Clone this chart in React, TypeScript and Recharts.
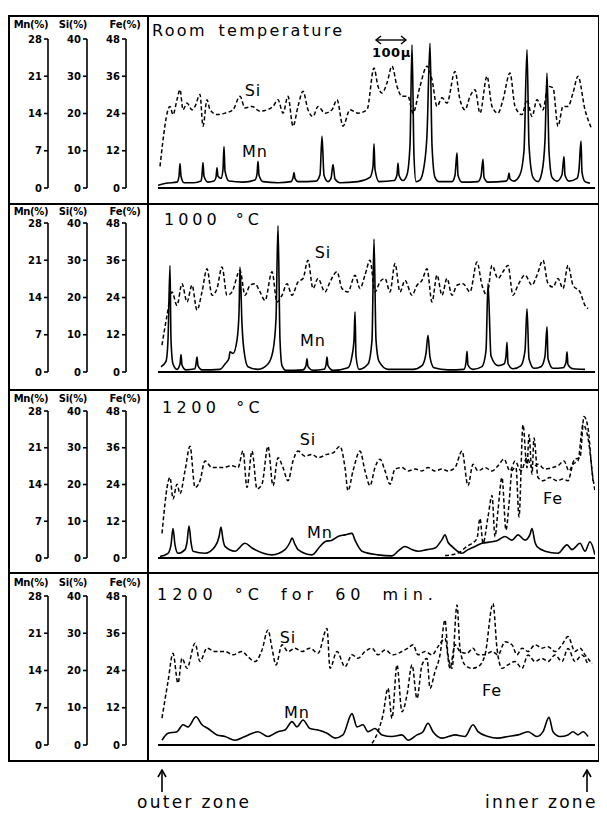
import { LineChart, Line, XAxis, YAxis, ReferenceLine, ReferenceDot } from "recharts";

type Pt = [number, number];
type Tag = [string, number, number];

const FONT = "'DejaVu Sans', sans-serif";

const mnTicks = [0, 7, 14, 21, 28];
const siTicks = [0, 10, 20, 30, 40];
const feTicks = [0, 12, 24, 36, 48];
const axisHeads = ["Mn(%)", "Si(%)", "Fe(%)"];
const titles = ["Room temperature", "1000 °C", "1200 °C", "1200 °C for 60 min."];

// [distance along scan, %]
const roomSi: Pt[] = [
  [2, 5.8], [12, 21.9], [15, 19.7], [19, 23.7], [22, 26.4], [25, 21.0], [29, 22.8], [34, 21.0], [37, 21.9],
  [42, 25.1], [45, 16.6], [49, 23.7], [52, 21.0], [59, 19.7], [67, 20.1], [75, 21.0], [82, 24.6], [87, 21.5],
  [94, 21.9], [102, 20.6], [109, 21.0], [115, 21.9], [120, 23.7], [125, 20.1], [130, 24.6], [135, 16.6],
  [140, 21.9], [145, 26.0], [150, 21.0], [155, 19.2], [160, 21.9], [167, 20.1], [174, 21.0], [179, 23.7],
  [185, 16.6], [192, 21.0], [200, 20.1], [209, 21.0], [216, 32.2], [220, 27.3], [224, 25.5], [229, 28.2],
  [234, 32.7], [239, 27.3], [244, 24.6], [250, 24.6], [255, 20.1], [262, 27.3], [269, 32.7], [274, 29.1],
  [279, 21.9], [284, 24.2], [289, 22.8], [297, 31.3], [302, 23.7], [307, 21.0], [312, 24.6], [317, 26.4],
  [322, 20.1], [329, 30.0], [334, 21.9], [340, 20.1], [345, 23.7], [352, 30.9], [357, 21.9], [364, 19.7],
  [369, 23.7], [374, 19.2], [379, 23.7], [385, 21.0], [390, 27.3], [395, 26.9], [400, 16.6], [405, 21.9],
  [410, 21.9], [415, 25.5], [420, 30.0], [427, 21.0], [434, 15.7],
];
const roomMn: Pt[] = [
  [0, 0.5], [8, 0.9], [19, 1.1], [21, 2.2], [22, 4.6], [23, 2.2], [26, 1.0], [36, 1.0], [43, 1.3], [44, 2.4],
  [45, 4.8], [46, 2.2], [50, 1.1], [56, 1.3], [58, 2.0], [59, 3.8], [60, 2.2], [63, 1.8], [65, 3.5], [66, 7.8],
  [67, 3.2], [71, 1.3], [85, 1.1], [97, 1.5], [99, 2.6], [100, 5.0], [101, 2.4], [105, 1.2], [120, 1.0],
  [133, 1.2], [135, 1.9], [136, 2.9], [137, 1.8], [140, 1.2], [158, 1.3], [162, 2.5], [164, 9.7], [166, 2.4],
  [170, 1.2], [173, 1.8], [175, 4.4], [177, 1.7], [182, 1.0], [200, 1.2], [212, 2.0], [215, 4.0], [216, 8.3],
  [217, 3.5], [221, 1.2], [236, 1.4], [239, 2.5], [240, 4.7], [241, 2.4], [245, 1.4], [249, 2.5], [252, 8.0],
  [254, 26.9], [256, 6.0], [258, 1.2], [262, 1.5], [266, 4.0], [269, 10.0], [272, 27.2], [274, 8.0], [277, 2.0],
  [281, 1.2], [294, 1.2], [297, 2.4], [299, 6.6], [300, 2.4], [304, 1.1], [320, 1.2], [323, 2.2], [325, 5.4],
  [326, 2.0], [330, 1.1], [348, 1.3], [350, 1.8], [351, 2.8], [352, 1.7], [356, 1.3], [362, 2.5], [366, 7.0],
  [369, 26.0], [371, 8.0], [375, 2.0], [380, 1.2], [384, 3.0], [387, 9.0], [389, 21.6], [391, 7.0], [394, 2.0],
  [399, 1.3], [404, 2.5], [406, 5.9], [407, 2.4], [411, 1.3], [419, 1.8], [421, 3.5], [423, 8.8], [424, 3.0],
  [427, 1.2], [432, 0.9],
];

const c1000Si: Pt[] = [
  [4, 7.2], [9, 15.2], [14, 21.5], [19, 17.9], [24, 23.7], [29, 18.8], [34, 23.3], [39, 16.6], [44, 21.5],
  [49, 27.7], [54, 20.6], [59, 22.4], [64, 28.2], [69, 20.6], [74, 21.5], [82, 27.3], [87, 20.6], [92, 23.3],
  [97, 23.7], [102, 21.5], [107, 19.2], [114, 26.9], [119, 18.8], [124, 20.6], [129, 23.7], [134, 20.6],
  [140, 24.2], [145, 25.1], [150, 30.0], [155, 22.4], [160, 25.1], [167, 21.5], [172, 24.2], [179, 26.9],
  [184, 22.4], [190, 21.5], [197, 26.0], [202, 22.4], [207, 26.0], [212, 30.0], [217, 21.5], [222, 24.2],
  [227, 25.1], [232, 21.5], [237, 29.1], [242, 21.5], [247, 24.6], [254, 20.6], [259, 23.3], [264, 24.6],
  [269, 27.7], [274, 18.8], [279, 26.0], [284, 20.6], [289, 25.1], [294, 20.6], [299, 23.3], [305, 23.7],
  [312, 21.5], [319, 29.5], [324, 23.3], [329, 20.6], [334, 28.6], [340, 25.1], [345, 26.9], [350, 28.6],
  [355, 20.6], [360, 23.3], [367, 26.0], [374, 23.3], [379, 26.0], [385, 30.0], [390, 23.7], [395, 22.8],
  [400, 25.1], [405, 22.4], [410, 28.6], [415, 23.3], [422, 21.5], [427, 17.9], [430, 17.0],
];
const c1000Mn: Pt[] = [
  [3, 1.0], [8, 2.0], [10, 6.0], [12, 20.0], [13, 6.0], [15, 1.5], [19, 0.5], [22, 1.5], [23, 3.3], [24, 1.3],
  [28, 0.4], [37, 0.6], [38, 1.5], [39, 2.8], [40, 1.2], [44, 0.4], [62, 0.5], [67, 1.5], [71, 2.6], [72, 3.8],
  [75, 3.5], [79, 6.0], [81, 11.0], [82, 19.7], [84, 9.0], [86, 4.0], [90, 1.0], [100, 0.5], [110, 1.5],
  [115, 4.0], [118, 10.0], [120, 27.5], [122, 6.0], [124, 1.2], [128, 0.3], [145, 0.4], [148, 1.2], [149, 2.5],
  [150, 1.0], [155, 0.3], [166, 0.5], [168, 1.3], [169, 2.8], [170, 1.2], [175, 0.3], [190, 0.8], [194, 3.0],
  [196, 6.0], [197, 11.3], [198, 3.0], [201, 0.5], [210, 1.5], [214, 6.0], [216, 25.0], [218, 6.0], [221, 2.0],
  [230, 0.5], [255, 0.5], [264, 1.2], [268, 3.5], [270, 6.9], [272, 2.8], [276, 0.8], [290, 0.4], [306, 0.5],
  [308, 1.8], [309, 3.9], [310, 1.3], [315, 0.5], [324, 1.0], [328, 4.0], [330, 16.6], [333, 3.0], [340, 1.2],
  [346, 1.5], [348, 3.0], [349, 5.6], [350, 1.6], [355, 0.6], [363, 1.2], [367, 4.0], [369, 11.9], [371, 2.5],
  [376, 0.7], [383, 1.0], [387, 3.0], [389, 8.5], [390, 2.5], [395, 0.7], [405, 0.8], [408, 1.8], [409, 3.8],
  [410, 1.4], [415, 0.6], [427, 0.5],
];

const c1200Si: Pt[] = [
  [4, 6.7], [12, 21.9], [15, 16.1], [19, 20.1], [22, 17.5], [27, 23.7], [32, 30.4], [37, 19.2], [42, 21.0],
  [47, 26.4], [54, 24.6], [64, 24.6], [74, 25.1], [80, 24.6], [85, 29.1], [89, 19.2], [94, 29.1], [99, 18.8],
  [104, 20.1], [110, 30.4], [115, 19.7], [120, 27.3], [125, 24.6], [130, 21.0], [135, 26.4], [140, 29.1],
  [147, 27.7], [154, 28.2], [160, 27.3], [169, 28.2], [175, 28.6], [182, 30.4], [187, 24.6], [190, 18.3],
  [195, 23.7], [202, 29.1], [207, 23.7], [212, 19.7], [217, 24.6], [222, 26.9], [227, 23.7], [232, 20.1],
  [237, 24.2], [244, 24.6], [250, 23.7], [257, 24.2], [264, 23.7], [270, 24.6], [277, 23.7], [284, 24.2],
  [290, 23.7], [297, 24.6], [304, 29.1], [310, 19.7], [315, 25.5], [320, 23.7], [327, 24.6], [334, 23.7],
  [340, 25.1], [346, 26.9], [352, 23.7], [357, 26.4], [363, 23.7], [369, 27.3], [374, 24.6], [380, 25.5],
  [387, 24.2], [394, 24.6], [400, 25.1], [406, 26.4], [411, 23.7], [417, 26.9], [422, 27.3], [426, 38.5],
  [430, 35.4], [434, 23.7], [437, 18.3],
];
const c1200Mn: Pt[] = [
  [2, 0.3], [10, 0.9], [13, 2.5], [15, 5.6], [17, 2.5], [20, 0.9], [27, 1.6], [29, 3.0], [31, 6.1], [33, 3.0],
  [35, 1.3], [47, 0.9], [57, 2.2], [61, 4.0], [63, 5.9], [65, 3.5], [67, 2.2], [77, 1.3], [87, 2.8], [94, 1.9],
  [114, 0.6], [127, 1.6], [132, 3.0], [134, 3.8], [137, 2.6], [140, 1.6], [154, 0.6], [162, 2.2], [167, 3.1],
  [174, 3.4], [180, 4.1], [187, 4.4], [194, 4.7], [197, 3.4], [204, 1.3], [220, 0.6], [234, 0.4], [240, 1.3],
  [247, 2.2], [254, 1.6], [260, 1.3], [269, 1.6], [277, 1.9], [284, 3.5], [287, 4.4], [290, 3.0], [294, 2.2],
  [304, 0.9], [310, 1.6], [317, 2.2], [324, 2.8], [334, 3.1], [340, 3.4], [347, 4.1], [354, 3.4], [360, 4.4],
  [367, 3.4], [372, 4.5], [374, 5.6], [377, 3.0], [379, 2.2], [387, 1.3], [400, 0.9], [409, 2.5], [414, 1.6],
  [422, 2.8], [427, 1.3], [432, 3.1], [437, 0.6],
];
const c1200Fe: Pt[] = [
  [287, 0.8], [300, 1.6], [309, 3.8], [314, 4.8], [319, 6.4], [322, 12.9], [325, 4.8], [330, 13.4], [334, 20.4],
  [337, 7.0], [340, 15.6], [344, 26.3], [348, 9.1], [351, 17.7], [354, 28.5], [358, 29.5], [361, 13.4],
  [365, 43.5], [369, 29.5], [371, 40.3], [374, 27.4], [376, 39.2], [380, 26.3], [385, 25.2], [392, 26.3],
  [399, 25.2], [405, 25.8], [410, 25.2], [415, 30.6], [420, 31.7], [425, 43.5], [430, 39.2], [435, 25.2],
];

const c1200hSi: Pt[] = [
  [4, 7.2], [10, 17.0], [15, 24.6], [20, 16.6], [24, 23.3], [29, 20.6], [37, 27.3], [42, 22.4], [49, 26.0],
  [57, 25.1], [67, 25.1], [75, 24.2], [84, 25.1], [90, 23.7], [97, 22.4], [104, 25.5], [110, 30.9], [114, 26.0],
  [118, 21.5], [124, 26.9], [130, 25.1], [137, 26.0], [144, 25.1], [152, 26.0], [160, 24.6], [169, 31.3],
  [172, 20.6], [179, 25.1], [187, 21.0], [194, 24.2], [200, 23.3], [207, 25.1], [214, 26.0], [220, 24.2],
  [227, 25.5], [235, 24.2], [244, 25.1], [250, 26.0], [255, 26.9], [260, 24.2], [267, 25.1], [274, 24.2],
  [280, 26.4], [287, 28.6], [292, 20.6], [297, 26.9], [302, 25.1], [309, 24.6], [315, 26.0], [320, 24.2],
  [327, 24.2], [334, 25.1], [340, 24.2], [347, 27.7], [354, 26.9], [359, 24.2], [364, 26.0], [370, 25.1],
  [377, 26.9], [384, 26.0], [390, 26.4], [397, 25.1], [404, 26.9], [410, 29.1], [417, 25.1], [422, 26.0],
  [427, 24.2], [434, 21.9],
];
const c1200hMn: Pt[] = [
  [4, 0.9], [10, 2.2], [19, 2.5], [25, 3.8], [30, 3.4], [38, 5.3], [44, 3.8], [50, 3.1], [59, 1.9], [67, 1.6],
  [77, 0.9], [87, 1.6], [100, 2.5], [110, 1.6], [120, 2.5], [127, 2.8], [134, 4.4], [139, 3.4], [145, 4.7],
  [152, 3.1], [160, 2.8], [169, 2.2], [177, 1.3], [185, 1.9], [194, 5.9], [199, 3.4], [205, 3.8], [210, 2.5],
  [217, 3.1], [224, 1.9], [234, 1.6], [244, 1.9], [250, 0.9], [259, 1.9], [265, 2.5], [270, 4.1], [275, 2.5],
  [284, 1.3], [297, 1.9], [307, 1.6], [315, 3.8], [320, 2.5], [330, 1.6], [340, 1.3], [350, 1.6], [360, 1.9],
  [370, 2.5], [379, 1.6], [385, 2.5], [391, 5.2], [395, 2.5], [402, 1.6], [410, 1.9], [415, 2.5], [420, 1.9],
  [425, 2.5], [430, 1.6],
];
const c1200hFe: Pt[] = [
  [214, 0.5], [220, 4.3], [225, 9.7], [230, 18.3], [234, 8.6], [239, 25.8], [244, 10.7], [249, 16.1],
  [254, 25.8], [259, 15.0], [264, 25.8], [269, 27.9], [272, 18.3], [277, 23.6], [282, 29.0], [287, 40.3],
  [290, 29.0], [294, 24.7], [299, 45.1], [302, 31.1], [307, 25.8], [314, 24.7], [320, 25.2], [327, 29.0],
  [335, 45.6], [339, 31.1], [344, 24.7], [350, 25.8], [357, 26.9], [364, 24.7], [370, 29.0], [377, 26.9],
  [384, 27.9], [390, 26.9], [397, 29.0], [404, 26.9], [410, 31.1], [417, 26.9], [424, 29.0], [430, 25.8],
];

// curve names: [text, distance, height on the Mn scale]
const roomTags: Tag[] = [["Si", 95, 18.4], ["Mn", 97, 6.8]];
const c1000Tags: Tag[] = [["Si", 165, 22.4], ["Mn", 155, 6.0]];
const c1200Tags: Tag[] = [["Si", 150, 22.7], ["Mn", 162, 4.9], ["Fe", 395, 11.3]];
const c1200hTags: Tag[] = [["Si", 130, 20.3], ["Mn", 139, 6.2], ["Fe", 334, 10.3]];

const rows = (pts: Pt[]) => pts.map(([d, v]) => ({ d, v }));

const tickStyle = { fontSize: 10, fontWeight: 700, fill: "#000", fontFamily: FONT };

// axis ids sort so that Mn ends up outermost, then Si, Fe and a blank spacer next to the plot
const MN = "y4mn";
const SI = "y3si";
const FE = "y2fe";
const PAD = "y1pad";

interface PanelProps {
  top: number;
  height: number;
  mTop: number;
  mBottom: number;
  title: string;
  titleLeft: number;
  titleTop: number;
  spacing: number;
  headTop: number;
  si: Pt[];
  mn: Pt[];
  fe?: Pt[];
  tags: Tag[];
}

function Panel(p: PanelProps) {
  return (
    <div style={{ position: "absolute", left: 0, top: p.top, width: 592, height: p.height }}>
      <LineChart width={592} height={p.height} margin={{ top: p.mTop, right: 5, bottom: p.mBottom, left: 0 }}>
        <XAxis dataKey="d" type="number" domain={[0, 437]} hide allowDataOverflow />
        <YAxis yAxisId={MN} width={40} domain={[0, 28]} ticks={mnTicks} interval={0} allowDataOverflow
          tickSize={4} tickMargin={2} stroke="#000" strokeWidth={1.6} tick={tickStyle} />
        <YAxis yAxisId={SI} width={39} domain={[0, 40]} ticks={siTicks} interval={0} allowDataOverflow
          tickSize={4} tickMargin={2} stroke="#000" strokeWidth={1.6} tick={tickStyle} />
        <YAxis yAxisId={FE} width={39} domain={[0, 48]} ticks={feTicks} interval={0} allowDataOverflow
          tickSize={4} tickMargin={2} stroke="#000" strokeWidth={1.6} tick={tickStyle} />
        <YAxis yAxisId={PAD} width={32} axisLine={false} tickLine={false} tick={false} domain={[0, 1]} />
        <ReferenceLine yAxisId={MN} y={0} stroke="#000" strokeWidth={2} />
        <Line yAxisId={SI} data={rows(p.si)} dataKey="v" type="monotone" stroke="#000" strokeWidth={1.5}
          strokeDasharray="4 2.5" dot={false} activeDot={false} isAnimationActive={false} />
        {p.fe && (
          <Line yAxisId={FE} data={rows(p.fe)} dataKey="v" type="monotone" stroke="#000" strokeWidth={1.5}
            strokeDasharray="4 2.5" dot={false} activeDot={false} isAnimationActive={false} />
        )}
        <Line yAxisId={MN} data={rows(p.mn)} dataKey="v" type="monotone" stroke="#000" strokeWidth={1.6}
          dot={false} activeDot={false} isAnimationActive={false} />
        {p.tags.map(([t, d, v]) => (
          <ReferenceDot key={t} yAxisId={MN} x={d} y={v} r={0} fill="none" stroke="none"
            label={{ value: t, position: "center", fontSize: 16, fill: "#000", fontFamily: FONT, letterSpacing: 1 }} />
        ))}
      </LineChart>
      {axisHeads.map((h, i) => (
        <div key={h} style={{
          position: "absolute", left: [2, 44, 96][i], top: p.headTop, width: 42, textAlign: "center",
          fontSize: 10, fontWeight: 700, lineHeight: "12px", letterSpacing: -0.3,
        }}>{h}</div>
      ))}
      <div style={{
        position: "absolute", left: p.titleLeft, top: p.titleTop, fontSize: 16, lineHeight: "19px",
        letterSpacing: p.spacing, wordSpacing: p.spacing + 2, whiteSpace: "nowrap",
      }}>{p.title}</div>
    </div>
  );
}

function UpArrow({ left }: { left: number }) {
  return (
    <svg style={{ position: "absolute", left: left - 5, top: 761 }} width={10} height={24}>
      <line x1={5} y1={2} x2={5} y2={23} stroke="#000" strokeWidth={1.6} />
      <polyline points="1,8 5,1 9,8" fill="none" stroke="#000" strokeWidth={1.6} />
    </svg>
  );
}

export default function App() {
  const line = "#000";
  return (
    <div style={{ position: "relative", width: 592, height: 805, fontFamily: FONT, color: "#000" }}>
      <Panel top={7} height={189} mTop={24} mBottom={16} title={titles[0]} titleLeft={144} titleTop={6}
        spacing={2.3} headTop={4} si={roomSi} mn={roomMn} tags={roomTags} />
      <Panel top={196} height={186} mTop={19} mBottom={18} title={titles[1]} titleLeft={156} titleTop={6}
        spacing={4} headTop={2} si={c1000Si} mn={c1000Mn} tags={c1000Tags} />
      <Panel top={382} height={183} mTop={21} mBottom={15} title={titles[2]} titleLeft={154} titleTop={8}
        spacing={4.4} headTop={3} si={c1200Si} mn={c1200Mn} fe={c1200Fe} tags={c1200Tags} />
      <Panel top={565} height={189} mTop={23} mBottom={17} title={titles[3]} titleLeft={149} titleTop={12}
        spacing={5} headTop={4} si={c1200hSi} mn={c1200hMn} fe={c1200hFe} tags={c1200hTags} />

      {/* frame */}
      <div style={{ position: "absolute", left: 0, top: 7, width: 592, height: 747, border: `2px solid ${line}`, boxSizing: "border-box" }} />
      <div style={{ position: "absolute", left: 139, top: 7, width: 2, height: 747, background: line }} />
      {[195, 381, 564].map((y) => (
        <div key={y} style={{ position: "absolute", left: 0, top: y, width: 592, height: 2, background: line }} />
      ))}

      {/* 100 micron scale */}
      <svg style={{ position: "absolute", left: 366, top: 27 }} width={34} height={10}>
        <line x1={2} y1={5} x2={32} y2={5} stroke="#000" strokeWidth={1.4} />
        <polyline points="7,1 2,5 7,9" fill="none" stroke="#000" strokeWidth={1.4} />
        <polyline points="27,1 32,5 27,9" fill="none" stroke="#000" strokeWidth={1.4} />
      </svg>
      <div style={{ position: "absolute", left: 364, top: 37, fontSize: 13, fontWeight: 700, lineHeight: "15px", letterSpacing: 0.5 }}>100μ</div>

      <UpArrow left={154} />
      <UpArrow left={579} />
      <div style={{ position: "absolute", left: 129, top: 784, fontSize: 17, lineHeight: "20px", letterSpacing: 2.3 }}>outer zone</div>
      <div style={{ position: "absolute", left: 477, top: 784, fontSize: 17, lineHeight: "20px", letterSpacing: 2.3 }}>inner zone</div>
    </div>
  );
}
